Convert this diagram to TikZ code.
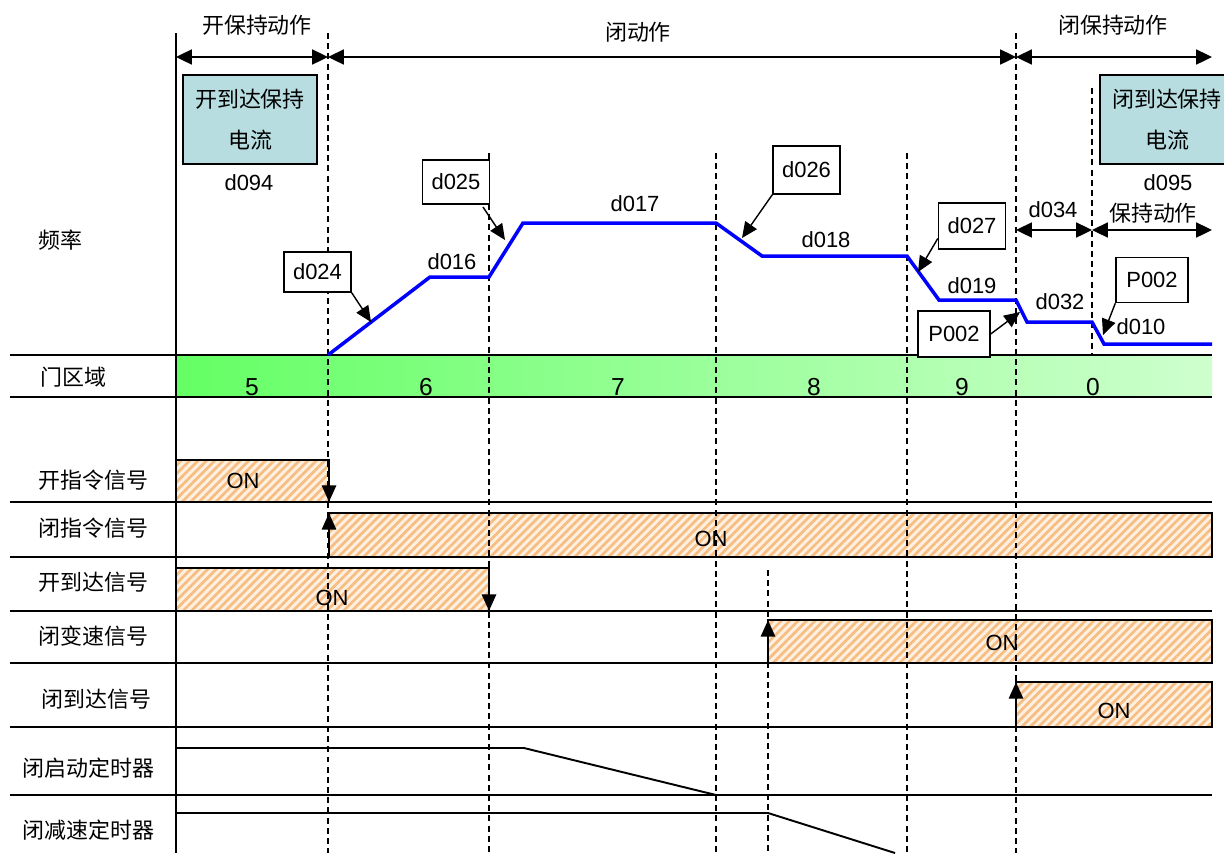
\documentclass[tikz,border=0pt]{standalone}
\usepackage{fontspec}
\setmainfont{Liberation Sans}
\newfontfamily\cjk{Noto Sans CJK SC}
\usetikzlibrary{arrows.meta,patterns.meta}

\definecolor{holdfill}{RGB}{183,221,224}
\definecolor{zonedark}{RGB}{100,255,100}
\definecolor{zonelight}{RGB}{206,255,206}
\definecolor{hatch}{RGB}{247,188,128}
\definecolor{hatchbg}{RGB}{254,240,224}

\begin{document}
\begin{tikzpicture}[x=0.02cm, y=-0.02cm,
	every node/.style={font=\fontsize{12.5}{15}\selectfont, inner sep=0pt},
	zh/.style={font=\fontsize{12.5}{15}\selectfont\cjk},
	rowline/.style={line width=1.1pt},
	guide/.style={line width=0.85pt, dash pattern=on 3.4pt off 2.4pt},
	speed/.style={blue, line width=2pt},
	span/.style={{Triangle[length=9pt,width=8.5pt]}-{Triangle[length=9pt,width=8.5pt]}, line width=1.1pt},
	callout/.style={draw, fill=white, line width=0.8pt, minimum width=1.34cm, minimum height=0.88cm},
	pointer/.style={-{Triangle[length=9pt,width=8pt]}, line width=0.8pt},
	holdbox/.style={draw, fill=holdfill, line width=1.1pt, minimum width=2.68cm, minimum height=1.78cm,
		align=center, font=\fontsize{12.5}{23.2}\selectfont\cjk},
	edgearrow/.style={-{Triangle[length=9.5pt,width=8pt]}, line width=1.6pt}]

	\useasboundingbox (0,0) rectangle (1224,853);

	% ============ DOOR ZONE BAND ============
	\shade[left color=zonedark, right color=zonelight] (176,355) rectangle (1212,397);
	\foreach \x/\d in {252/5, 426/6, 618/7, 814/8, 962/9, 1093/0} {
		\node[font=\fontsize{14}{16}\selectfont] (zone\d) at (\x,387) {\d};
	}

	% ============ SIGNAL BARS ============
	\foreach \xa/\ya/\xb/\yb in {176/460/329/502, 329/513/1212/557, 176/568/489/611,
		768/620/1212/663, 1016/682/1212/727} {
		\fill[hatchbg] (\xa,\ya) rectangle (\xb,\yb);
		\fill[pattern={Lines[angle=45,distance=3.4pt,line width=1.5pt]}, pattern color=hatch] (\xa,\ya) rectangle (\xb,\yb);
		\draw[line width=1.1pt] (\xa,\ya) rectangle (\xb,\yb);
	}

	% Row separators
	\foreach \y in {355, 397, 502, 557, 611, 663, 727, 795} {
		\draw[rowline] (10,\y) -- (1212,\y);
	}

	% Timers
	\draw[line width=1.1pt] (176,748) -- (524,748) -- (716,795);
	\draw[line width=1.1pt] (176,813) -- (768,813) -- (895,853);

	% Time axis and guide lines
	\draw[line width=1.1pt] (176,33) -- (176,853);
	\foreach \x/\ya/\yb in {328/33/853, 489/153/853, 716/153/853, 907/153/853,
		1016/33/853, 1092/88/355, 768/570/853} {
		\draw[guide] (\x,\ya) -- (\x,\yb);
	}

	% Signal edges
	\coordinate (e1a) at (329,460); \coordinate (e1b) at (329,502);
	\coordinate (e2a) at (329,557); \coordinate (e2b) at (329,513);
	\coordinate (e3a) at (489,568); \coordinate (e3b) at (489,611);
	\coordinate (e4a) at (768,663); \coordinate (e4b) at (768,620);
	\coordinate (e5a) at (1016,727); \coordinate (e5b) at (1016,682);
	\draw[edgearrow] (e1a) -- (e1b);
	\draw[edgearrow] (e2a) -- (e2b);
	\draw[edgearrow] (e3a) -- (e3b);
	\draw[edgearrow] (e4a) -- (e4b);
	\draw[edgearrow] (e5a) -- (e5b);

	\node (on1) at (243,481) {ON};
	\node (on2) at (711,539) {ON};
	\node (on3) at (332,598) {ON};
	\node (on4) at (1002,643) {ON};
	\node (on5) at (1114,711) {ON};

	% ============ SPEED CURVE ============
	\draw[speed] (328,355) -- (430,277) -- (489,277) -- (523,223) -- (716,223) -- (762,256)
		-- (907,256) -- (939,300) -- (1016,300) -- (1027,322) -- (1092,322) -- (1104,344) -- (1212,344);

	\node (d016) at (452,262) {d016};
	\node (d017) at (635,204) {d017};
	\node (d018) at (826,240) {d018};
	\node (d019) at (972,286) {d019};
	\node (d032) at (1060,302) {d032};
	\node (d010) at (1141,327) {d010};

	% Callouts
	\node[callout, minimum height=0.8cm] (c024) at (317.5,272) {d024};
	\node[callout] (c025) at (456,182) {d025};
	\node[callout, minimum height=0.96cm] (c026) at (806.5,170) {d026};
	\node[callout, minimum height=0.92cm] (c027) at (972,226) {d027};
	\node[callout, minimum width=1.44cm, minimum height=0.92cm] (p002a) at (954,334) {P002};
	\node[callout, minimum width=1.44cm, minimum height=0.9cm] (p002b) at (1152,280) {P002};

	\coordinate (t024) at (371,322);
	\coordinate (s025) at (483,207);
	\coordinate (t025) at (505,240);
	\coordinate (t026) at (742,238);
	\coordinate (t027) at (918,272);
	\coordinate (t032) at (1020,312);
	\coordinate (t010) at (1103,335);
	\draw[pointer] (c024.south east) -- (t024);
	\draw[pointer] (s025) -- (t025);
	\draw[pointer] (c026.south west) -- (t026);
	\draw[pointer] (c027.-160) -- (t027);
	\draw[pointer] (p002a.east) -- (t032);
	\draw[pointer] (p002b.south west) -- (t010);

	% ============ HOLD PHASES ============
	\node[holdbox] (hold1) at (250,119.5) {开到达保持\\电流};
	\node[holdbox] (hold2) at (1167,119.5) {闭到达保持\\电流};
	\node (d094) at (249,183) {d094};
	\node (d095) at (1168,183) {d095};

	\coordinate (h0) at (176,57);
	\coordinate (h1) at (328,57);
	\coordinate (h2) at (1016,57);
	\coordinate (h3) at (1212,57);
	\draw[span] (h0) -- (h1);
	\draw[span] (h1) -- (h2);
	\draw[span] (h2) -- (h3);
	\node[zh] (ph1) at (257,25) {开保持动作};
	\node[zh] (ph2) at (638,32) {闭动作};
	\node[zh] (ph3) at (1113,25) {闭保持动作};

	\coordinate (k0) at (1016,230);
	\coordinate (k1) at (1092,230);
	\coordinate (k2) at (1212,230);
	\draw[span] (k0) -- (k1);
	\draw[span] (k1) -- (k2);
	\node (d034) at (1053,210) {d034};
	\node[zh] (ph4) at (1153,213) {保持动作};

	% ============ ROW LABELS ============
	\foreach \i/\x/\y/\t in {1/38/240/频率, 2/40/377/门区域, 3/38/480/开指令信号, 4/38/528/闭指令信号,
		5/38/582/开到达信号, 6/38/636/闭变速信号, 7/41/699/闭到达信号, 8/22/768/闭启动定时器, 9/22/830/闭减速定时器} {
		\node[zh, anchor=west] (row\i) at (\x,\y) {\t};
	}

\end{tikzpicture}
\end{document}
